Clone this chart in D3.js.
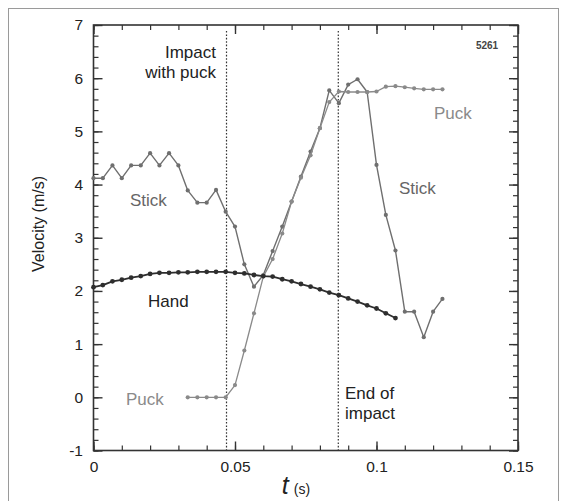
<!DOCTYPE html>
<html>
<head>
<meta charset="utf-8">
<script src="https://cdn.jsdelivr.net/npm/d3@7"></script>
<style>
  body { margin: 0; background: #fff; }
  svg { display: block; }
</style>
</head>
<body>
<script>
// sample times (video at 300 frames per second)
var times = [0, 0.0033, 0.0067, 0.0100, 0.0133, 0.0167, 0.0200, 0.0233, 0.0267, 0.0300,
  0.0333, 0.0367, 0.0400, 0.0433, 0.0467, 0.0500, 0.0533, 0.0567, 0.0600, 0.0633,
  0.0667, 0.0700, 0.0733, 0.0767, 0.0800, 0.0833, 0.0867, 0.0900, 0.0933, 0.0967,
  0.1000, 0.1033, 0.1067, 0.1100, 0.1133, 0.1167, 0.1200, 0.1233];

// velocities (m/s)
var stickV = [4.12, 4.12, 4.36, 4.12, 4.36, 4.36, 4.59, 4.36, 4.59, 4.36,
  3.89, 3.66, 3.66, 3.90, 3.49, 3.21, 2.50, 2.08, 2.30, 2.75,
  3.21, 3.68, 4.15, 4.62, 5.06, 5.77, 5.53, 5.88, 5.98, 5.74,
  4.37, 3.43, 2.76, 1.61, 1.61, 1.13, 1.61, 1.85];

var handV = [2.07, 2.11, 2.18, 2.21, 2.25, 2.28, 2.32, 2.34, 2.34, 2.35,
  2.35, 2.36, 2.36, 2.36, 2.36, 2.34, 2.33, 2.30, 2.28, 2.27,
  2.22, 2.18, 2.13, 2.08, 2.03, 1.97, 1.92, 1.86, 1.80, 1.73,
  1.67, 1.58, 1.49];

// puck starts at the 11th frame
var puckV = [0, 0, 0, 0, 0, 0.23, 0.88, 1.58, 2.27, 2.60,
  3.08, 3.68, 4.13, 4.55, 5.06, 5.55, 5.75, 5.74, 5.74, 5.74,
  5.75, 5.84, 5.85, 5.83, 5.81, 5.79, 5.79, 5.79];

// impact start and end
var markers = [0.047, 0.0865];

var xTicks = [0, 0.05, 0.1, 0.15];
var yTicks = [-1, 0, 1, 2, 3, 4, 5, 6, 7];

var series = [
  { name: "Stick", t: times, v: stickV, color: "#6f6f6f", width: 1.4, r: 2.1 },
  { name: "Puck", t: times.slice(10), v: puckV, color: "#8a8a8a", width: 1.3, r: 2.1 },
  { name: "Hand", t: times.slice(0, 33), v: handV, color: "#2e2e2e", width: 1.8, r: 2.4 }
];

var width = 566, height = 501;
var font = "'Liberation Sans', Arial, sans-serif";

var svg = d3.select("body").append("svg")
  .attr("width", width)
  .attr("height", height);

// thin frame round the whole figure
svg.append("rect")
  .attr("x", 8.5).attr("y", 8.5)
  .attr("width", 550).attr("height", 510)
  .attr("fill", "none")
  .attr("stroke", "#9a9a9a")
  .attr("stroke-width", 1);

var x = d3.scaleLinear().domain([0, 0.15]).range([93.5, 518]);
var y = d3.scaleLinear().domain([-1, 7]).range([450.5, 25]);

// minor ticks on all four sides
var xMinor = d3.range(0, 0.1501, 0.01);
var yMinor = d3.range(-1, 7.001, 0.2);

function minorAxis(axis, tr) {
  svg.append("g")
    .attr("transform", tr)
    .call(axis.tickSizeInner(-5).tickSizeOuter(0).tickFormat(""))
    .call(g => g.select(".domain").remove())
    .selectAll("line").attr("stroke", "#333").attr("stroke-width", 1.2);
}
minorAxis(d3.axisBottom(x).tickValues(xMinor), "translate(0," + y(-1) + ")");
minorAxis(d3.axisTop(x).tickValues(xMinor), "translate(0," + y(7) + ")");
minorAxis(d3.axisLeft(y).tickValues(yMinor), "translate(" + x(0) + ",0)");
minorAxis(d3.axisRight(y).tickValues(yMinor), "translate(" + x(0.15) + ",0)");

// major ticks with labels
function majorAxis(axis, tr, labels) {
  var g = svg.append("g")
    .attr("transform", tr)
    .call(axis.tickSizeInner(-9).tickSizeOuter(0).tickPadding(10.5)
      .tickFormat(labels ? (d => String(d)) : ""));
  g.select(".domain").remove();
  g.selectAll("line").attr("stroke", "#333").attr("stroke-width", 1.4);
  g.attr("font-family", font).attr("font-size", 15.5);
  g.selectAll("text").attr("fill", "#222");
  return g;
}
majorAxis(d3.axisBottom(x).tickValues(xTicks), "translate(0," + y(-1) + ")", true);
majorAxis(d3.axisTop(x).tickValues(xTicks), "translate(0," + y(7) + ")", false);
majorAxis(d3.axisLeft(y).tickValues(yTicks), "translate(" + x(0) + ",0)", true);
majorAxis(d3.axisRight(y).tickValues(yTicks), "translate(" + x(0.15) + ",0)", false);

// plot frame
svg.append("rect")
  .attr("x", x(0)).attr("y", y(7))
  .attr("width", x(0.15) - x(0))
  .attr("height", y(-1) - y(7))
  .attr("fill", "none")
  .attr("stroke", "#333")
  .attr("stroke-width", 1.6);

// dotted lines at start and end of impact
svg.selectAll("line.mark")
  .data(markers)
  .enter()
  .append("line")
  .attr("class", "mark")
  .attr("x1", d => x(d)).attr("x2", d => x(d))
  .attr("y1", y(7) + 6).attr("y2", y(-1))
  .attr("stroke", "#333")
  .attr("stroke-width", 1.2)
  .attr("stroke-dasharray", "1.6,1.8");

// lines and points
var line = d3.line()
  .x(d => x(d[0]))
  .y(d => y(d[1]));

series.forEach(function(s) {
  var pts = s.v.map((v, i) => [s.t[i], v]);
  svg.append("path")
    .datum(pts)
    .attr("d", line)
    .attr("fill", "none")
    .attr("stroke", s.color)
    .attr("stroke-width", s.width)
    .attr("stroke-linejoin", "round");
  svg.append("g")
    .selectAll("circle")
    .data(pts)
    .enter()
    .append("circle")
    .attr("cx", d => x(d[0]))
    .attr("cy", d => y(d[1]))
    .attr("r", s.r)
    .attr("fill", s.color);
});

// text labels in the plot
var labels = [
  { text: "Impact", x: 216, y: 58, anchor: "end", color: "#222" },
  { text: "with puck", x: 216, y: 78, anchor: "end", color: "#222" },
  { text: "Stick", x: 130, y: 206, anchor: "start", color: "#666" },
  { text: "Hand", x: 148, y: 307, anchor: "start", color: "#222" },
  { text: "Puck", x: 126, y: 405, anchor: "start", color: "#8a8a8a" },
  { text: "Puck", x: 434, y: 119, anchor: "start", color: "#8a8a8a" },
  { text: "Stick", x: 399, y: 194, anchor: "start", color: "#666" },
  { text: "End of", x: 345, y: 399, anchor: "start", color: "#222" },
  { text: "impact", x: 345, y: 419, anchor: "start", color: "#222" }
];

svg.selectAll("text.lbl")
  .data(labels)
  .enter()
  .append("text")
  .attr("class", "lbl")
  .attr("x", d => d.x)
  .attr("y", d => d.y)
  .attr("text-anchor", d => d.anchor)
  .attr("font-family", font)
  .attr("font-size", 17)
  .attr("fill", d => d.color)
  .text(d => d.text);

svg.append("text")
  .attr("x", 487).attr("y", 49)
  .attr("text-anchor", "middle")
  .attr("font-family", font)
  .attr("font-size", 10)
  .attr("font-weight", "bold")
  .attr("fill", "#444")
  .text("5261");

// axis titles
svg.append("text")
  .attr("transform", "translate(44,224) rotate(-90)")
  .attr("text-anchor", "middle")
  .attr("font-family", font)
  .attr("font-size", 16)
  .attr("fill", "#222")
  .text("Velocity (m/s)");

var xt = svg.append("text")
  .attr("x", 296).attr("y", 494)
  .attr("text-anchor", "middle")
  .attr("font-family", font)
  .attr("fill", "#222");
xt.append("tspan")
  .attr("font-size", 25)
  .attr("font-style", "italic")
  .text("t");
xt.append("tspan")
  .attr("font-size", 14)
  .attr("dx", 5)
  .text("(s)");
</script>
</body>
</html>
